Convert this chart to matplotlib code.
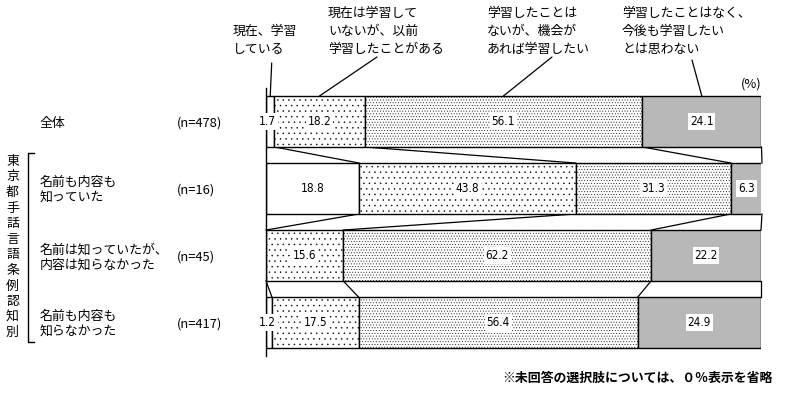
import matplotlib
matplotlib.use("Agg")
import matplotlib.pyplot as plt
from matplotlib.lines import Line2D
import numpy as np

plt.rcParams['font.family'] = ['Noto Sans CJK JP', 'DejaVu Sans']
plt.rcParams['hatch.linewidth'] = 0.3

# ---------------- data ----------------
categories = ["現在、学習\nしている",
              "現在は学習して\nいないが、以前\n学習したことがある",
              "学習したことは\nないが、機会が\nあれば学習したい",
              "学習したことはなく、\n今後も学習したい\nとは思わない"]
row_labels = ["全体", "名前も内容も\n知っていた", "名前は知っていたが、\n内容は知らなかった",
              "名前も内容も\n知らなかった"]
row_n = ["(n=478)", "(n=16)", "(n=45)", "(n=417)"]
group_title = "東京都手話言語条例認知別"
values = [
    [1.7, 18.2, 56.1, 24.1],
    [18.8, 43.8, 31.3, 6.3],
    [0.0, 15.6, 62.2, 22.2],
    [1.2, 17.5, 56.4, 24.9],
]
note = "※未回答の選択肢については、０％表示を省略"

# ---------------- figure ----------------
W, H = 800, 415
fig = plt.figure(figsize=(W / 100, H / 100), dpi=100)

def fx(x):
    return x / W

def fy(y):
    return 1 - y / H

ax = fig.add_axes([fx(266), fy(356), 495 / W, 268 / H])
ax.set_xlim(0, 100)
ax.set_ylim(3.5, -0.5)
for s in ['top', 'right', 'bottom']:
    ax.spines[s].set_visible(False)
ax.spines['left'].set_linewidth(1.0)
ax.set_xticks([])
ax.set_yticks([])

bar_h = 0.76
styles = [
    dict(facecolor='white', hatch=None),
    dict(facecolor='white', hatch='...'),
    dict(facecolor='white', hatch='......'),
    dict(facecolor='#b8b8b8', hatch=None),
]

vals = np.array(values)
cums = np.hstack([np.zeros((len(vals), 1)), np.cumsum(vals, axis=1)])

for i, row in enumerate(vals):
    for j, v in enumerate(row):
        if v <= 0:
            continue
        ax.barh(i, v, left=cums[i, j], height=bar_h, color=styles[j]['facecolor'],
                hatch=styles[j]['hatch'], edgecolor='black', linewidth=1.0, zorder=2)
        cx = cums[i, j] + v / 2
        if v < 3:
            cx = 0.3
        ax.text(cx, i, f"{v:.1f}", ha='center', va='center', fontsize=8.5,
                fontfamily='DejaVu Sans', fontstretch='condensed', zorder=5,
                bbox=dict(boxstyle='square,pad=0.15', facecolor='white', edgecolor='none'))

# connectors between rows
for i in range(len(vals) - 1):
    for k in range(1, 5):
        ax.plot([cums[i, k], cums[i + 1, k]], [i + bar_h / 2, i + 1 - bar_h / 2],
                color='black', linewidth=0.9, zorder=1, clip_on=False)

# top category labels with leader lines
label_pos = [(233, 40), (328, 31), (487, 31), (622, 31)]
leader_start = [(271.7, 63), (377, 57), (552, 57), (692, 60)]
for j, lab in enumerate(categories):
    lx, ly = label_pos[j]
    fig.text(fx(lx), fy(ly), lab, ha='left', va='center', fontsize=9.3, linespacing=1.5)
    v0 = vals[0, j]
    tx = cums[0, j] + v0 / 2
    sx, sy = leader_start[j]
    ax.annotate('', xy=(tx, -bar_h / 2), xycoords='data',
                xytext=(fx(sx), fy(sy)), textcoords='figure fraction',
                arrowprops=dict(arrowstyle='-', color='black', lw=0.9,
                                shrinkA=0, shrinkB=0))

fig.text(fx(751), fy(84), "(%)", ha='center', va='center', fontsize=9.3)

# row labels
for i, (lab, n) in enumerate(zip(row_labels, row_n)):
    yc = ax.transData.transform((0, i))[1] / fig.dpi / (H / 100)
    fig.text(fx(40), yc - 2 / H, lab, ha='left', va='center', fontsize=9.3, linespacing=1.25)
    fig.text(fx(177), yc - 2 / H, n, ha='left', va='center', fontsize=9.3)

# vertical group title and bracket
fig.text(fx(12.5), fy(247), "\n".join(group_title), ha='center', va='center',
         fontsize=9.3, linespacing=1.26)
fig.add_artist(Line2D([fx(34), fx(28.5), fx(28.5), fx(34)],
                      [fy(153), fy(153), fy(342), fy(342)],
                      color='black', linewidth=1.0))

# note
fig.text(fx(773), fy(378), note, ha='right', va='center', fontsize=9.3, fontweight='bold')

fig.savefig("out.png", dpi=100)
